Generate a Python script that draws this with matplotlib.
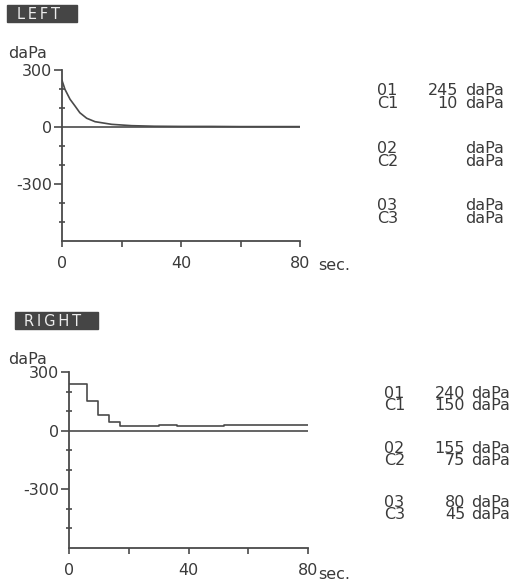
import matplotlib
matplotlib.use("Agg")
import matplotlib.pyplot as plt
from matplotlib.ticker import FixedLocator

plt.rcParams['font.family'] = ['DejaVu Sans']

# ---- data ----
left_t = [0, 1, 2.7, 4.4, 6, 8.3, 11.1, 16.7, 23.4, 31, 40, 50, 60, 70, 80]
left_v = [245, 198, 146, 110, 75, 46, 28, 14, 7, 4, 3, 3, 2, 2, 2]

right_t = [0, 6.1, 9.6, 13.5, 17, 30, 36, 40, 52, 70, 80]
right_v = [240, 150, 80, 45, 26, 28, 24, 24, 27, 30, 30]

left_labels = ["01", "C1", "02", "C2", "03", "C3"]
left_values = ["245", "10", "", "", "", ""]
right_labels = ["01", "C1", "02", "C2", "03", "C3"]
right_values = ["240", "150", "155", "75", "80", "45"]

y_major = [300, 0, -300]
y_major_labels = ["300", "0", "-300"]
y_minor = [200, 100, -100, -200, -400, -500]
x_ticks = [0, 20, 40, 60, 80]
x_labels = {0: "0", 40: "40", 80: "80"}

W, H = 523, 588
TXT = "#3a3a3a"
LINE = "#4a4a4a"
FS = 11.5
FS_R = 11.5

fig = plt.figure(figsize=(W / 100, H / 100), dpi=100)


def px_axes(x0, y_top, x1, y_bot):
    return fig.add_axes([x0 / W, 1 - y_bot / H, (x1 - x0) / W, (y_bot - y_top) / H])


def ftext(x, y_cap_center, s, fs, ha="left", color=TXT, **kw):
    # place text so that cap-height centre sits at y (pixels from top)
    base = y_cap_center + fs * 100 / 72 * 0.365
    return fig.text(x / W, 1 - base / H, s, fontsize=fs, color=color, ha=ha, va="baseline", **kw)


def draw_panel(ax, t, v, step, unit_y, sec_y, name_box, texts_x, rows_y, labels, values):
    ax.set_xlim(0, 80)
    ax.set_ylim(-600, 300)
    for s in ["top", "right"]:
        ax.spines[s].set_visible(False)
    for s in ["left", "bottom"]:
        ax.spines[s].set_color(LINE)
        ax.spines[s].set_linewidth(1.3)
    ax.set_yticks(y_major)
    ax.set_yticklabels(y_major_labels)
    ax.yaxis.set_minor_locator(FixedLocator(y_minor))
    ax.set_xticks(x_ticks)
    ax.set_xticklabels([x_labels.get(k, "") for k in x_ticks])
    ax.tick_params(axis="y", which="major", direction="out", length=6, width=1.2, color=LINE,
                   labelsize=FS, labelcolor=TXT, pad=1)
    ax.tick_params(axis="y", which="minor", direction="inout", length=5, width=1.2, color=LINE)
    ax.tick_params(axis="x", direction="out", length=4, width=1.2, color=LINE,
                   labelsize=FS, labelcolor=TXT, pad=7)
    ax.axhline(0, color=LINE, lw=1.2)
    ax.plot(t, v, color=LINE, lw=1.2, drawstyle="steps-post" if step else "default")
    ftext(8, unit_y, "daPa", FS)
    ftext(318, sec_y, "sec.", FS)
    bx0, by0, bx1, by1, label, tx = name_box
    fig.patches.append(plt.Rectangle((bx0 / W, 1 - by1 / H), (bx1 - bx0) / W, (by1 - by0) / H,
                                     transform=fig.transFigure, color="#454545", zorder=0))
    ftext(tx, (by0 + by1) / 2, "\u2009".join(label), 10.5, color="#ececec")
    lx, nx, ux = texts_x
    for lab, val, yy in zip(labels, values, rows_y):
        ftext(lx, yy, lab, FS_R)
        if val:
            ftext(nx, yy, val, FS_R, ha="right")
        ftext(ux, yy, "daPa", FS_R)


ax1 = px_axes(62, 70, 300, 241)
draw_panel(ax1, left_t, left_v, False, 52, 264, (7, 5, 77, 22, "LEFT", 17),
           (377, 458, 465), [89.5, 102, 147, 160, 204, 217], left_labels, left_values)

ax2 = px_axes(69, 372, 308, 548)
draw_panel(ax2, right_t, right_v, True, 358, 573, (15, 312, 98, 329, "RIGHT", 24),
           (384, 465, 471), [392, 404, 447, 459, 501, 513], right_labels, right_values)

fig.savefig("out.png", dpi=100)
